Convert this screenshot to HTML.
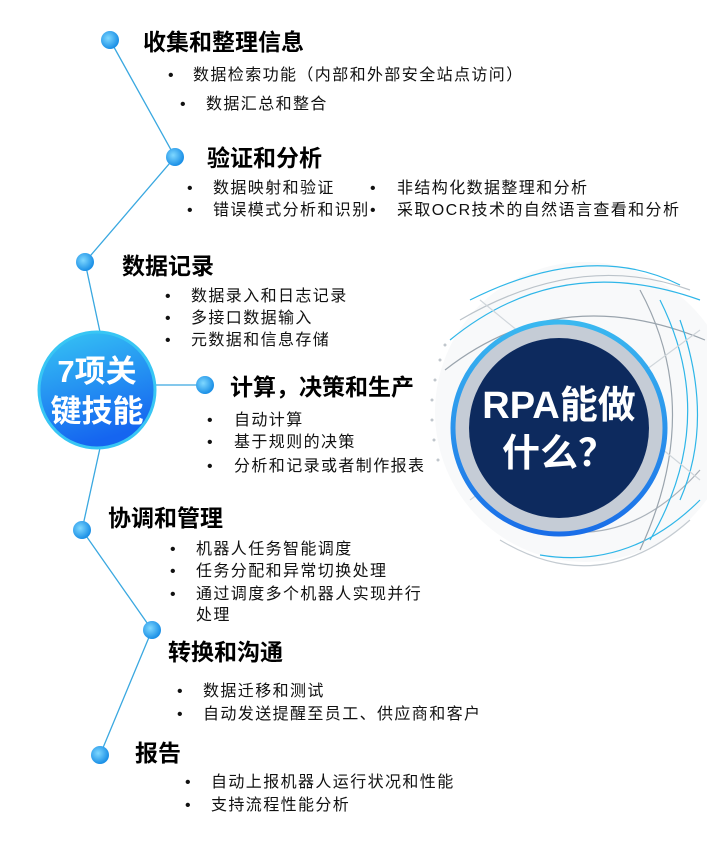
<!DOCTYPE html>
<html><head><meta charset="utf-8"><style>
body{margin:0;width:707px;height:841px;background:#fff;position:relative;overflow:hidden;font-family:"Liberation Sans","Noto Sans CJK SC",sans-serif;}
.t{position:absolute;font-size:16px;line-height:22px;color:#111;letter-spacing:1.4px;white-space:nowrap;margin-top:2px;}
.b{position:absolute;font-size:16px;line-height:22px;color:#111;margin-top:2px;}
.h{position:absolute;font-size:23px;line-height:30px;font-weight:bold;color:#000;white-space:nowrap;margin-top:1px;}
</style></head><body>
<svg width="707" height="841" style="position:absolute;left:0;top:0">
<defs>
<radialGradient id="dot" cx="40%" cy="40%" r="60%"><stop offset="0" stop-color="#7fd8ff"/><stop offset="1" stop-color="#1a8fe6"/></radialGradient>
<linearGradient id="lc" x1="0" y1="0" x2="0.3" y2="1"><stop offset="0" stop-color="#37c6f4"/><stop offset="1" stop-color="#1565f0"/></linearGradient>
<linearGradient id="ring" x1="0" y1="0" x2="0" y2="1"><stop offset="0" stop-color="#3ab8f0"/><stop offset="1" stop-color="#1a6ee8"/></linearGradient>
</defs>
<g stroke="#3aa8e0" stroke-width="1.3" fill="none">
<polyline points="110,40 175,157 85,262 100,332"/>
<line x1="150" y1="385" x2="205" y2="385"/>
<polyline points="100,448 82,530 152,630 100,755"/>
</g>
<circle cx="585" cy="412" r="150" fill="#f8f9fa"/>
<g fill="none" stroke-width="1.2">
<path d="M450,340 Q560,250 700,300" stroke="#2fb6e8"/>
<path d="M445,370 Q560,280 705,340" stroke="#9aa4ad"/>
<path d="M460,320 Q580,250 690,290" stroke="#bbc3ca"/>
<path d="M470,300 Q590,240 680,285" stroke="#2fb6e8"/>
<path d="M520,520 Q620,560 700,470" stroke="#aab2ba"/>
<path d="M500,540 Q600,600 690,520" stroke="#c4cbd1"/>
<path d="M540,555 Q630,570 700,500" stroke="#2fb6e8"/>
<path d="M660,300 Q720,420 650,540" stroke="#2fb6e8"/>
<path d="M640,290 Q705,410 640,550" stroke="#9aa4ad"/>
<path d="M680,320 Q715,420 680,500" stroke="#2fb6e8"/>
<path d="M480,300 L700,480" stroke="#d0d6db"/>
<path d="M470,500 L700,330" stroke="#d0d6db"/>
</g>
<g fill="#c0c6cc"><circle cx="440" cy="360" r="1.5"/><circle cx="435" cy="380" r="1.5"/><circle cx="432" cy="400" r="1.5"/><circle cx="432" cy="420" r="1.5"/><circle cx="434" cy="440" r="1.5"/><circle cx="438" cy="460" r="1.5"/><circle cx="445" cy="345" r="1.5"/></g>
<circle cx="559" cy="428" r="106" fill="#c5ccd6" stroke="url(#ring)" stroke-width="5"/>
<circle cx="559" cy="428" r="90" fill="#0d2a5e"/>
<circle cx="97" cy="390" r="58" fill="url(#lc)" stroke="#38c6f4" stroke-width="3"/>
<g fill="url(#dot)">
<circle cx="110" cy="40" r="9"/><circle cx="175" cy="157" r="9"/><circle cx="85" cy="262" r="9"/><circle cx="205" cy="385" r="9"/><circle cx="82" cy="530" r="9"/><circle cx="152" cy="630" r="9"/><circle cx="100" cy="755" r="9"/>
</g>
</svg>
<div style="position:absolute;left:39px;top:352px;width:116px;text-align:center;color:#fff;font-weight:bold;font-size:31px;line-height:40px;">7项关<br>键技能</div>
<div style="position:absolute;left:469px;top:382px;width:180px;text-align:center;color:#fff;font-weight:bold;font-size:38px;line-height:48px;">RPA能做<br>什么？</div>

<div class="h" style="left:143px;top:26px">收集和整理信息</div>
<div class="b" style="left:168px;top:63px">•</div><div class="t" style="left:193px;top:63px">数据检索功能（内部和外部安全站点访问）</div>
<div class="b" style="left:180px;top:92px">•</div><div class="t" style="left:206px;top:92px">数据汇总和整合</div>

<div class="h" style="left:207px;top:142px">验证和分析</div>
<div class="b" style="left:187px;top:176px">•</div><div class="t" style="left:213px;top:176px">数据映射和验证</div>
<div class="b" style="left:370px;top:176px">•</div><div class="t" style="left:397px;top:176px">非结构化数据整理和分析</div>
<div class="b" style="left:187px;top:198px">•</div><div class="t" style="left:213px;top:198px">错误模式分析和识别</div>
<div class="b" style="left:370px;top:198px">•</div><div class="t" style="left:397px;top:198px">采取OCR技术的自然语言查看和分析</div>

<div class="h" style="left:122px;top:250px">数据记录</div>
<div class="b" style="left:165px;top:284px">•</div><div class="t" style="left:191px;top:284px">数据录入和日志记录</div>
<div class="b" style="left:165px;top:306px">•</div><div class="t" style="left:191px;top:306px">多接口数据输入</div>
<div class="b" style="left:165px;top:328px">•</div><div class="t" style="left:191px;top:328px">元数据和信息存储</div>

<div class="h" style="left:230px;top:371px">计算，决策和生产</div>
<div class="b" style="left:207px;top:408px">•</div><div class="t" style="left:234px;top:408px">自动计算</div>
<div class="b" style="left:207px;top:430px">•</div><div class="t" style="left:234px;top:430px">基于规则的决策</div>
<div class="b" style="left:207px;top:454px">•</div><div class="t" style="left:234px;top:454px">分析和记录或者制作报表</div>

<div class="h" style="left:108px;top:502px">协调和管理</div>
<div class="b" style="left:170px;top:537px">•</div><div class="t" style="left:196px;top:537px">机器人任务智能调度</div>
<div class="b" style="left:170px;top:559px">•</div><div class="t" style="left:196px;top:559px">任务分配和异常切换处理</div>
<div class="b" style="left:170px;top:582px">•</div><div class="t" style="left:196px;top:582px">通过调度多个机器人实现并行</div>
<div class="t" style="left:196px;top:603px">处理</div>

<div class="h" style="left:168px;top:636px">转换和沟通</div>
<div class="b" style="left:177px;top:679px">•</div><div class="t" style="left:203px;top:679px">数据迁移和测试</div>
<div class="b" style="left:177px;top:702px">•</div><div class="t" style="left:203px;top:702px">自动发送提醒至员工、供应商和客户</div>

<div class="h" style="left:135px;top:737px">报告</div>
<div class="b" style="left:185px;top:770px">•</div><div class="t" style="left:211px;top:770px">自动上报机器人运行状况和性能</div>
<div class="b" style="left:185px;top:793px">•</div><div class="t" style="left:211px;top:793px">支持流程性能分析</div>
</body></html>
